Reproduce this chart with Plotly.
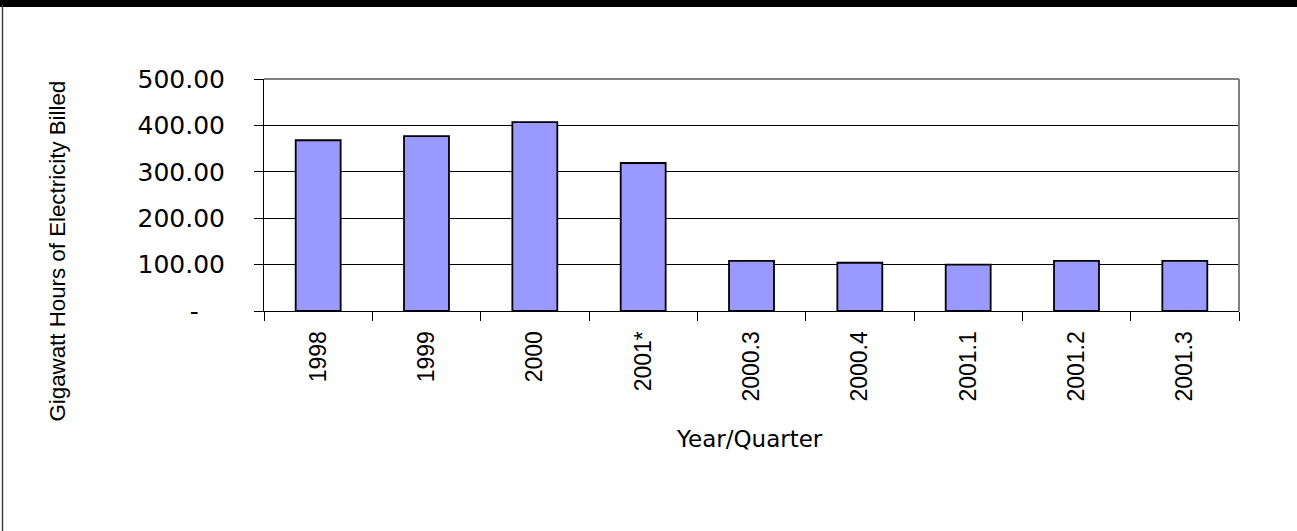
import plotly.graph_objects as go

categories = ["1998", "1999", "2000", "2001*", "2000.3", "2000.4", "2001.1", "2001.2", "2001.3"]
values = [368, 377, 407, 319, 108, 104, 100, 108, 108]
y_tickvals = [0, 100, 200, 300, 400, 500]
y_ticktext = ["-\u2007\u2008\u200a", "100.00", "200.00", "300.00", "400.00", "500.00"]
y_title = "Gigawatt Hours of Electricity Billed"
x_title = "Year/Quarter"

W, H = 1297, 531
L, R, T, B = 264, 58, 79, 220
pw = W - L - R
ph = H - T - B

def px_x(p):
    return (p - L) / pw

def px_y(p):
    return (H - B - p) / ph

fig = go.Figure(
    go.Bar(
        x=categories,
        y=values,
        marker=dict(color="#9999FF", line=dict(color="#000000", width=1.8)),
        hoverinfo="x+y",
    )
)

fig.update_layout(
    width=W,
    height=H,
    margin=dict(l=L, r=R, t=T, b=B, pad=0),
    paper_bgcolor="white",
    plot_bgcolor="white",
    bargap=0.585,
    showlegend=False,
    font=dict(family="Liberation Sans, Arial, sans-serif", color="black"),
)

fig.update_xaxes(
    type="category",
    tickson="boundaries",
    ticks="outside",
    ticklen=9,
    tickwidth=1,
    tickcolor="#000000",
    showline=True,
    linecolor="#000000",
    linewidth=1,
    showgrid=False,
    tickangle=-90,
    tickfont=dict(family="Liberation Sans, Arial, sans-serif", size=23, color="black"),
    ticklabelstandoff=10,
)

fig.update_yaxes(
    range=[0, 500],
    tickvals=y_tickvals,
    ticktext=y_ticktext,
    ticks="outside",
    ticklen=9,
    tickwidth=1,
    tickcolor="#000000",
    showline=True,
    linecolor="#000000",
    linewidth=1,
    showgrid=True,
    gridcolor="#000000",
    gridwidth=1,
    zeroline=False,
    tickfont=dict(family="DejaVu Sans, sans-serif", size=25, color="black"),
    ticklabelstandoff=24,
)

shapes = [
    # plot-area top and right edges (gray)
    dict(type="line", xref="paper", yref="paper", x0=0, x1=1, y0=1, y1=1,
         line=dict(color="#808080", width=2)),
    dict(type="line", xref="paper", yref="paper", x0=1, x1=1, y0=0, y1=1,
         line=dict(color="#808080", width=2)),
    # outer frame: thick black top bar and thin left edge
    dict(type="rect", xref="paper", yref="paper", x0=px_x(-5), x1=px_x(W + 5),
         y0=px_y(7), y1=px_y(-5), fillcolor="#000000", line=dict(width=0)),
    dict(type="line", xref="paper", yref="paper", x0=px_x(2.5), x1=px_x(2.5),
         y0=px_y(H + 5), y1=px_y(5), line=dict(color="#404040", width=1.5)),
]
fig.update_layout(shapes=shapes)

fig.add_annotation(
    text=y_title, textangle=-90, xref="paper", yref="paper",
    x=px_x(57), y=px_y(251.5), xanchor="center", yanchor="middle", showarrow=False,
    font=dict(family="Liberation Sans, Arial, sans-serif", size=22.3, color="black"),
)
fig.add_annotation(
    text=x_title, xref="paper", yref="paper",
    x=px_x(749), y=px_y(439), xanchor="center", yanchor="middle", showarrow=False,
    font=dict(family="DejaVu Sans, sans-serif", size=23, color="black"),
)

fig.write_html(
    "out.html",
    config={"displayModeBar": False},
    post_script="document.body.style.margin='0';document.body.style.overflow='hidden';",
)
